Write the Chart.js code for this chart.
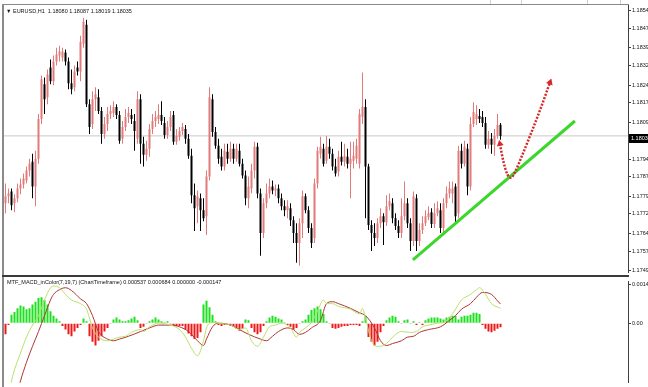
<!DOCTYPE html>
<html>
<head>
<meta charset="utf-8">
<script src="https://cdn.jsdelivr.net/npm/chart.js@4.4.1/dist/chart.umd.min.js"></script>
<style>
html,body{margin:0;padding:0;background:#fff;}
#wrap{position:relative;width:648px;height:387px;overflow:hidden;background:#fff;}
canvas{position:absolute;left:0;}
</style>
</head>
<body>
<div id="wrap">
<canvas id="main" width="648" height="277" style="top:0"></canvas>
<canvas id="macd" width="648" height="110" style="top:277px"></canvas>
</div>
<script>
// ---------- DATA ----------
const symbolTitle = '\u25BC EURUSD,H1  1.18080 1.18087 1.18019 1.18035';
const macdTitle = 'MTF_MACD_inColor(7,19,7) (ChartTimeframe) 0.000537 0.000684 0.000000 -0.000147';

const opens = [1.17763,1.17791,1.17811,1.17763,1.17783,1.17823,1.17839,1.17855,1.17895,1.17931,
1.17831,1.17943,1.18103,1.18243,1.18191,1.18311,1.18255,1.18335,1.18359,1.18351,
1.18371,1.18335,1.18247,1.18231,1.18311,1.18295,1.18407,1.18483,1.18163,1.18083,
1.18183,1.18191,1.18135,1.18043,1.18083,1.18123,1.18127,1.18151,1.18119,1.18023,
1.18071,1.18111,1.18119,1.18095,1.18023,1.18183,1.18003,1.17959,1.17983,1.18063,
1.18095,1.18103,1.18119,1.18087,1.18039,1.18071,1.18119,1.18011,1.18031,1.18055,
1.18063,1.18023,1.17955,1.17795,1.17751,1.17783,1.17735,1.17711,1.17871,1.18183,
1.18051,1.17995,1.17951,1.17911,1.17971,1.17943,1.17983,1.17943,1.17975,1.17923,
1.17875,1.17783,1.17823,1.17895,1.17991,1.17803,1.17643,1.17763,1.17803,1.17831,
1.17815,1.17823,1.17783,1.17751,1.17735,1.17743,1.17695,1.17643,1.17603,1.17683,
1.17791,1.17735,1.17663,1.17623,1.17843,1.17963,1.17983,1.17935,1.17991,1.17963,
1.17911,1.17891,1.17951,1.17931,1.17951,1.17923,1.17935,1.17943,1.17923,1.18111,
1.18151,1.17911,1.17675,1.17643,1.17623,1.17683,1.17711,1.17687,1.17751,1.17763,
1.17703,1.17671,1.17643,1.17711,1.17763,1.17683,1.17611,1.17783,1.17611,1.17655,
1.17683,1.17707,1.17727,1.17679,1.17723,1.17735,1.17663,1.17763,1.17803,1.17803,
1.17831,1.17723,1.17975,1.17923,1.17983,1.17831,1.18083,1.18103,1.18115,1.18111,
1.18087,1.17999,1.18023,1.17999,1.18035,1.18080];

const highs = [1.17843,1.17823,1.17823,1.17799,1.17843,1.17863,1.17883,1.17911,1.17943,1.17963,
1.17975,1.18123,1.18279,1.18271,1.18303,1.18343,1.18359,1.18391,1.18399,1.18391,
1.18383,1.18351,1.18303,1.18319,1.18335,1.18439,1.18511,1.18503,1.18183,1.18215,
1.18231,1.18223,1.18151,1.18111,1.18151,1.18159,1.18175,1.18163,1.18135,1.18095,
1.18143,1.18151,1.18143,1.18123,1.18215,1.18203,1.18031,1.18015,1.18083,1.18123,
1.18135,1.18163,1.18175,1.18111,1.18095,1.18135,1.18135,1.18063,1.18071,1.18087,
1.18079,1.18043,1.17983,1.17843,1.17815,1.17803,1.17783,1.17895,1.18231,1.18203,
1.18071,1.18023,1.17983,1.18003,1.18003,1.18011,1.18003,1.18003,1.18003,1.17943,
1.17895,1.17871,1.17923,1.18011,1.18007,1.17823,1.17783,1.17843,1.17863,1.17855,
1.17839,1.17839,1.17803,1.17775,1.17775,1.17763,1.17711,1.17683,1.17703,1.17815,
1.17803,1.17751,1.17683,1.17863,1.17991,1.18031,1.18003,1.18035,1.18023,1.17983,
1.17943,1.17975,1.18011,1.18003,1.17983,1.18011,1.18011,1.18023,1.18143,1.18291,
1.18183,1.17923,1.17695,1.17683,1.17703,1.17743,1.17723,1.17795,1.17803,1.17783,
1.17723,1.17695,1.17783,1.17851,1.17783,1.17703,1.17811,1.17799,1.17683,1.17711,
1.17735,1.17751,1.17743,1.17763,1.17771,1.17763,1.17783,1.17831,1.17851,1.17851,
1.17843,1.17995,1.18003,1.18015,1.18003,1.18111,1.18171,1.18159,1.18143,1.18135,
1.18111,1.18055,1.18047,1.18063,1.18123,1.18087];

const lows = [1.17723,1.17763,1.17735,1.17727,1.17767,1.17799,1.17823,1.17843,1.17871,1.17783,
1.17751,1.17923,1.18083,1.18123,1.18163,1.18243,1.18239,1.18319,1.18335,1.18335,
1.18319,1.18223,1.18203,1.18215,1.18279,1.18255,1.18391,1.18151,1.18043,1.18063,
1.18135,1.18123,1.18003,1.18023,1.18055,1.18103,1.18111,1.18103,1.18003,1.18003,
1.18055,1.18087,1.18083,1.17975,1.18003,1.17923,1.17911,1.17935,1.17951,1.18043,
1.18071,1.18083,1.18079,1.18023,1.18023,1.18055,1.17999,1.17999,1.18015,1.18039,
1.18003,1.17943,1.17763,1.17651,1.17683,1.17651,1.17691,1.17635,1.17855,1.18031,
1.17983,1.17923,1.17895,1.17895,1.17923,1.17931,1.17923,1.17931,1.17911,1.17863,
1.17755,1.17743,1.17803,1.17863,1.17783,1.17551,1.17623,1.17743,1.17783,1.17799,
1.17791,1.17763,1.17735,1.17711,1.17703,1.17671,1.17603,1.17523,1.17511,1.17623,
1.17723,1.17643,1.17583,1.17603,1.17823,1.17943,1.17911,1.17923,1.17943,1.17895,
1.17871,1.17871,1.17915,1.17911,1.17903,1.17783,1.17903,1.17923,1.17903,1.18083,
1.17703,1.17655,1.17571,1.17591,1.17603,1.17663,1.17595,1.17671,1.17735,1.17683,
1.17655,1.17623,1.17623,1.17695,1.17663,1.17571,1.17591,1.17571,1.17591,1.17639,
1.17671,1.17695,1.17663,1.17663,1.17711,1.17643,1.17643,1.17743,1.17783,1.17763,
1.17683,1.17703,1.17903,1.17911,1.17795,1.17815,1.18071,1.18079,1.18087,1.18071,
1.17983,1.17983,1.17963,1.17955,1.18023,1.18019];

const closes = [1.17791,1.17803,1.17755,1.17783,1.17823,1.17839,1.17863,1.17895,1.17923,1.17831,
1.17943,1.18103,1.18263,1.18183,1.18283,1.18255,1.18335,1.18363,1.18375,1.18375,
1.18335,1.18247,1.18223,1.18295,1.18295,1.18415,1.18495,1.18163,1.18071,1.18183,
1.18203,1.18135,1.18043,1.18083,1.18123,1.18135,1.18151,1.18119,1.18015,1.18071,
1.18111,1.18127,1.18103,1.18055,1.18183,1.18003,1.17959,1.17983,1.18063,1.18095,
1.18111,1.18119,1.18095,1.18039,1.18071,1.18111,1.18011,1.18035,1.18055,1.18071,
1.18023,1.17955,1.17795,1.17743,1.17791,1.17735,1.17703,1.17871,1.18191,1.18051,
1.17995,1.17943,1.17911,1.17975,1.17943,1.17983,1.17943,1.17983,1.17923,1.17875,
1.17783,1.17831,1.17895,1.17991,1.17803,1.17643,1.17763,1.17803,1.17831,1.17815,
1.17823,1.17783,1.17751,1.17735,1.17751,1.17695,1.17643,1.17603,1.17683,1.17791,
1.17735,1.17663,1.17603,1.17843,1.17975,1.17991,1.17923,1.17991,1.17963,1.17911,
1.17883,1.17951,1.17931,1.17955,1.17923,1.17943,1.17955,1.17995,1.18123,1.18151,
1.17911,1.17675,1.17643,1.17623,1.17683,1.17711,1.17687,1.17751,1.17771,1.17703,
1.17671,1.17643,1.17711,1.17763,1.17683,1.17611,1.17791,1.17611,1.17655,1.17683,
1.17711,1.17723,1.17679,1.17723,1.17743,1.17663,1.17763,1.17803,1.17823,1.17823,
1.17711,1.17975,1.17923,1.17991,1.17831,1.18083,1.18131,1.18123,1.18103,1.18087,
1.17999,1.18023,1.17999,1.18035,1.18079,1.18035];

const priceTicks = [1.1854,1.1847,1.1839,1.1832,1.1824,1.1817,1.1809,1.1794,1.1787,1.1779,1.1772,1.1764,1.1757,1.1749];

const histogram = [-0.00040,-0.00007,0.00030,0.00040,0.00053,0.00063,0.00060,0.00050,0.00053,0.00067,
0.00077,0.00090,0.00093,0.00083,0.00067,0.00043,0.00027,0.00017,0.00007,-0.00010,
-0.00023,-0.00040,-0.00047,-0.00030,-0.00017,-0.00007,0.00017,0.00007,-0.00047,-0.00067,
-0.00080,-0.00063,-0.00047,-0.00030,-0.00017,-0.00003,0.00013,0.00020,0.00013,0.00007,
0.00007,0.00010,0.00017,0.00023,0.00010,-0.00017,-0.00013,-0.00003,0.00007,0.00013,
0.00020,0.00013,0.00007,0.00003,0.00007,-0.00003,-0.00007,-0.00010,-0.00010,-0.00010,
-0.00023,-0.00037,-0.00047,-0.00057,-0.00053,-0.00033,0.00067,0.00080,0.00057,0.00030,
0.00007,-0.00007,-0.00010,-0.00007,-0.00007,-0.00010,-0.00013,-0.00020,-0.00027,-0.00020,
0.00013,0.00010,-0.00017,-0.00033,-0.00040,-0.00033,-0.00010,0.00007,0.00020,0.00027,
0.00023,0.00017,0.00013,0.00003,-0.00007,-0.00013,-0.00023,-0.00017,-0.00003,0.00007,
0.00013,0.00030,0.00047,0.00053,0.00060,0.00050,0.00033,0.00007,-0.00003,-0.00017,
-0.00020,-0.00017,-0.00013,-0.00010,-0.00010,-0.00007,-0.00007,-0.00007,-0.00010,0.00007,
0.00027,-0.00050,-0.00067,-0.00080,-0.00067,-0.00033,-0.00010,0.00010,0.00020,0.00027,
0.00023,0.00007,-0.00003,0.00010,0.00013,-0.00003,0.00007,-0.00007,0.00003,-0.00007,
0.00010,0.00017,0.00020,0.00020,0.00020,0.00017,0.00013,0.00020,0.00023,0.00027,
0.00027,0.00013,0.00023,0.00027,0.00027,0.00030,0.00037,0.00037,0.00033,-0.00007,
-0.00020,-0.00030,-0.00033,-0.00027,-0.00020,-0.000147];

const macdBars = [0,2,5,7,9,11,13,15,16,18,20,22,25,27,29,31,34,36,38,40,42,45,46,48,51,55,58,60,62,64,66,67,69,71,75,78,80,82,84,86,88,90,92,95,97,98,100,102,104,106,107,109,111,115,118,119,120,122,124,126,128,130,132,135,137,139,141,144,146,148,150,152,155,157,158,160,162,165];
const macdValues = [-0.00333,-0.00207,-0.00107,-0.00050,-0.00007,0.00027,0.00083,0.00127,0.00133,0.00127,
0.00103,0.00083,0.00070,0.00050,-0.00017,-0.00050,-0.00063,-0.00057,-0.00050,-0.00047,
-0.00033,-0.00023,-0.00030,-0.00013,0.00000,-0.00007,-0.00023,-0.00050,-0.00090,-0.00117,
-0.00063,-0.00017,0.00003,0.00000,-0.00007,-0.00023,-0.00017,-0.00063,-0.00083,-0.00050,
-0.00013,-0.00007,0.00000,-0.00017,-0.00050,-0.00033,-0.00017,0.00003,0.00043,0.00083,
0.00070,0.00070,0.00060,0.00050,0.00033,0.00053,0.00017,-0.00063,-0.00083,-0.00080,
-0.00063,-0.00040,-0.00030,-0.00033,-0.00030,-0.00013,-0.00007,0.00000,0.00003,0.00020,
0.00050,0.00083,0.00103,0.00120,0.00127,0.00103,0.00070,0.000537];

const signalBars = [2,5,7,9,11,13,15,16,18,20,22,25,27,29,31,34,36,38,41,45,48,51,55,58,61,64,66,67,69,71,75,78,81,85,87,89,91,94,96,98,100,102,105,107,109,111,115,118,120,123,125,127,129,132,134,136,138,141,145,148,150,152,155,157,159,162,164,165];
const signalValues = [-0.00333,-0.00207,-0.00140,-0.00083,-0.00030,0.00027,0.00083,0.00103,0.00120,0.00127,
0.00117,0.00087,0.00070,0.00027,-0.00030,-0.00057,-0.00063,-0.00057,-0.00047,-0.00030,
-0.00017,-0.00007,-0.00007,-0.00013,-0.00030,-0.00063,-0.00080,-0.00057,-0.00013,0.00000,
-0.00007,-0.00023,-0.00040,-0.00057,-0.00063,-0.00047,-0.00030,-0.00017,-0.00023,-0.00040,
-0.00033,-0.00017,0.00010,0.00070,0.00077,0.00070,0.00053,0.00037,0.00027,-0.00017,
-0.00063,-0.00080,-0.00073,-0.00063,-0.00050,-0.00047,-0.00033,-0.00023,-0.00013,0.00010,
0.00027,0.00050,0.00070,0.00093,0.00110,0.00103,0.00080,0.000684];

const macdTicks = [0.0014, 0];

// drawn annotations (bar index, price)
const trendLine = [{x:135.8, y:1.17535}, {x:189.8, y:1.18095}];
const arrowPath = [{x:164.8,y:1.18003},{x:166,y:1.17930},{x:167.3,y:1.17880},{x:168.5,y:1.17866},{x:170,y:1.17893},{x:172,y:1.17950},{x:175,y:1.18040},{x:178.3,y:1.18143},{x:181.5,y:1.18251}];

// ---------- BUILD ----------
const bullColor = '#e37a7a', bearColor = '#000000';
const histUp = '#1fe01f', histDown = '#ee1a1a';
const n = opens.length;
const lastPrice = closes[n - 1];
const xMin = -0.5, xMax = 207.5;
const idx = opens.map((_, i) => i);
const candleColors = idx.map(i => closes[i] >= opens[i] ? bullColor : bearColor);
const FONT = '"Liberation Sans", "DejaVu Sans", Arial, sans-serif';

function rightAxis(min, max, ticks, fmt) {
  return {
    position: 'right', min, max,
    afterFit: s => { s.width = 20; },
    afterBuildTicks: s => { s.ticks = ticks.map(v => ({value: v})); },
    grid: {display: true, drawOnChartArea: false, drawTicks: true, tickLength: 3, color: '#404040'},
    border: {display: true, color: '#404040', width: 1},
    ticks: {padding: 1, color: '#111', font: {size: 5.5, family: FONT}, callback: fmt, autoSkip: false, maxRotation: 0}
  };
}
const xAxis = {type: 'linear', min: xMin, max: xMax, offset: false, display: false, grid: {offset: false}};

const mainDecor = {
  id: 'mainDecor',
  afterDraw(chart) {
    const ctx = chart.ctx;
    const y = Math.round(chart.scales.y.getPixelForValue(lastPrice));
    ctx.save();
    // frame
    ctx.fillStyle = '#8a8a8a';
    ctx.fillRect(2, 4, 2, 273);
    ctx.fillRect(2, 4, 627, 1);
    ctx.fillStyle = '#3a3a3a';
    ctx.fillRect(2, 275, 627, 2);
    ctx.fillStyle = '#c4d2e0';
    [490, 521, 587, 620].forEach(x => ctx.fillRect(x, 0, 1, 4));
    // current price box
    ctx.fillStyle = '#000';
    ctx.fillRect(629, y - 2, 19, 9);
    ctx.fillStyle = '#fff';
    ctx.font = '5.5px ' + FONT;
    ctx.textBaseline = 'middle';
    ctx.fillText(lastPrice.toFixed(5), 631, y + 2.5);
    // title
    ctx.fillStyle = '#111';
    ctx.fillText(symbolTitle, 6, 11);
    ctx.restore();
  }
};
const macdDecor = {
  id: 'macdDecor',
  afterDraw(chart) {
    const ctx = chart.ctx;
    ctx.save();
    ctx.fillStyle = '#8a8a8a';
    ctx.fillRect(2, 0, 2, 110);
    ctx.fillStyle = '#111';
    ctx.font = '5.5px ' + FONT;
    ctx.textBaseline = 'middle';
    ctx.fillText(macdTitle, 7, 5);
    ctx.restore();
  }
};

Chart.defaults.font.family = FONT;

new Chart(document.getElementById('main'), {
  type: 'bar',
  data: {
    datasets: [
      {type: 'line', data: [{x: xMin, y: lastPrice}, {x: xMax, y: lastPrice}], borderColor: '#c8c8c8', borderWidth: 1, pointRadius: 0, order: 10},
      {data: idx.map(i => ({x: i, y: [lows[i], highs[i]]})), backgroundColor: candleColors, barThickness: 1, grouped: false, inflateAmount: 0, order: 6},
      {data: idx.map(i => ({x: i, y: [opens[i], closes[i]]})), backgroundColor: candleColors, barThickness: 2, grouped: false, inflateAmount: 0, order: 5},
      {type: 'line', data: trendLine, borderColor: '#3cd62c', borderWidth: 3, pointRadius: 0, order: 2},
      {type: 'line', data: arrowPath, borderColor: '#d62a2a', borderWidth: 2.5, borderDash: [2, 1.5], cubicInterpolationMode: 'monotone',
        pointStyle: 'triangle', pointBackgroundColor: '#d62a2a', pointBorderWidth: 0,
        pointRadius: c => (c.dataIndex === 0 || c.dataIndex === arrowPath.length - 1) ? 4 : 0,
        pointRotation: c => c.dataIndex === 0 ? -12 : 20, order: 1}
    ]
  },
  options: {
    responsive: false, animation: false, devicePixelRatio: 1, events: [],
    layout: {padding: {left: 4, top: 5, right: 0, bottom: 2}},
    plugins: {legend: {display: false}, tooltip: {enabled: false}},
    scales: {
      x: xAxis,
      y: rightAxis(1.17483, 1.18563, priceTicks, v => Number(v).toFixed(5))
    }
  },
  plugins: [mainDecor]
});

new Chart(document.getElementById('macd'), {
  type: 'bar',
  data: {
    datasets: [
      {data: idx.map(i => ({x: i, y: histogram[i]})), backgroundColor: histogram.map(v => v >= 0 ? histUp : histDown), barThickness: 2, grouped: false, inflateAmount: 0, order: 5},
      {type: 'line', data: signalBars.map((b, k) => ({x: b, y: signalValues[k]})), borderColor: '#b23434', borderWidth: 1, pointRadius: 0, cubicInterpolationMode: 'monotone', order: 2},
      {type: 'line', data: macdBars.map((b, k) => ({x: b, y: macdValues[k]})), borderColor: '#b9e06a', borderWidth: 1, pointRadius: 0, cubicInterpolationMode: 'monotone', order: 1}
    ]
  },
  options: {
    responsive: false, animation: false, devicePixelRatio: 1, events: [],
    layout: {padding: {left: 4, top: 1, right: 0, bottom: 0}},
    plugins: {legend: {display: false}, tooltip: {enabled: false}},
    scales: {
      x: xAxis,
      y: rightAxis(-0.0021333, 0.0015, macdTicks, v => Number(v) === 0 ? '0.00' : Number(v).toFixed(5))
    }
  },
  plugins: [macdDecor]
});
</script>
</body>
</html>
